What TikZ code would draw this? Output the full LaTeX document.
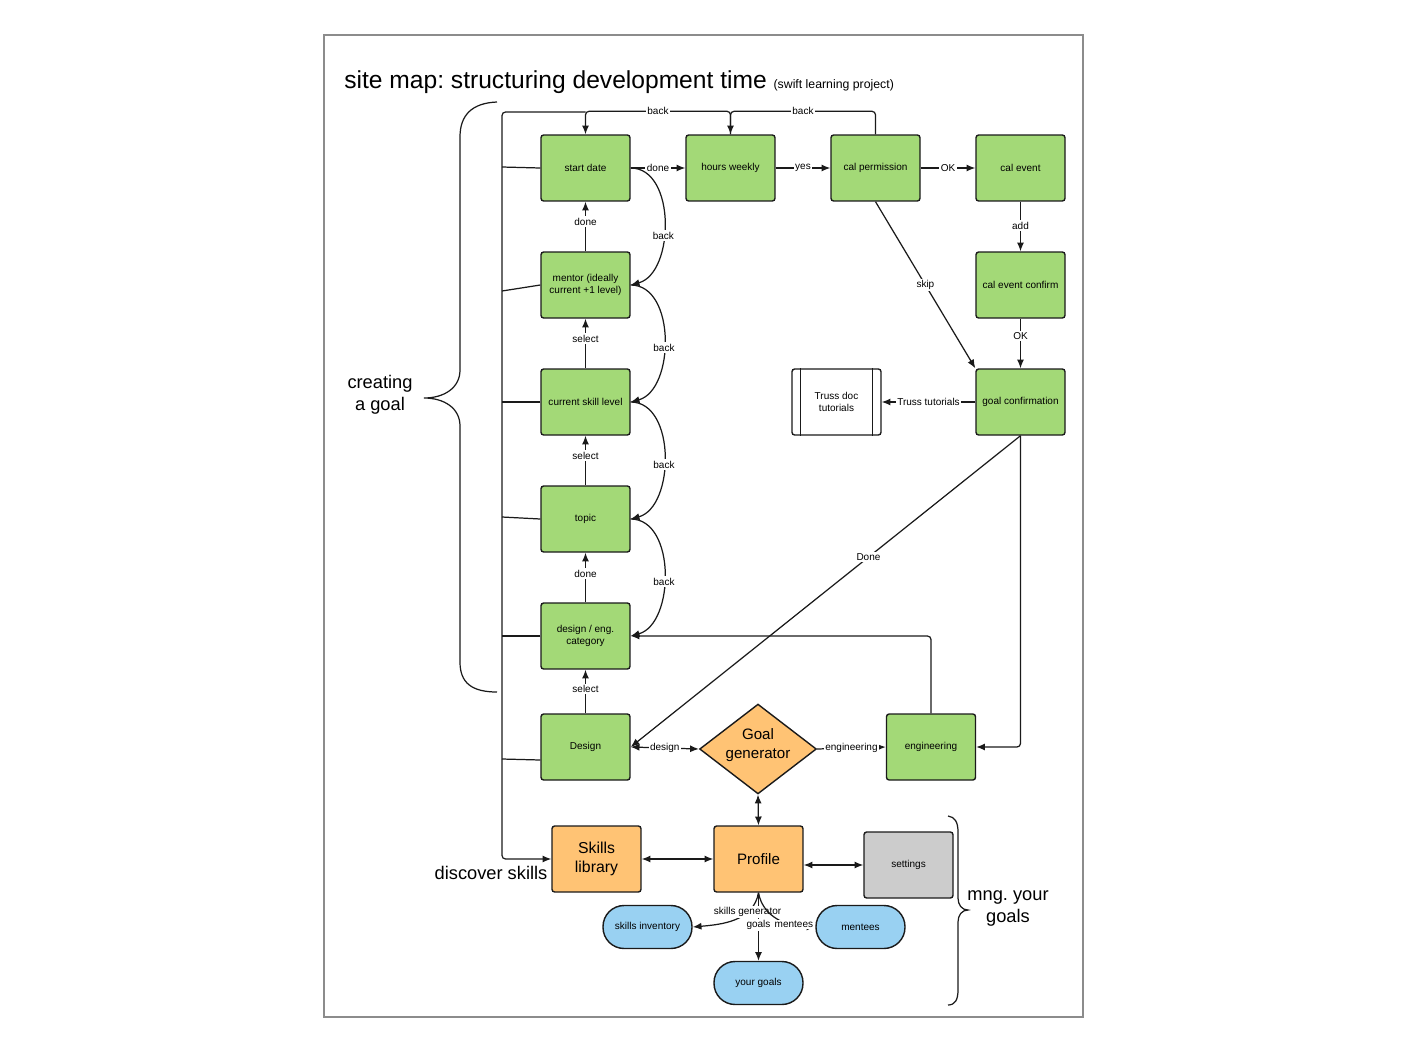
\documentclass[tikz,border=0pt]{standalone}
\usepackage{fontspec}
\setmainfont{Liberation Sans}
\usetikzlibrary{arrows.meta,shapes.geometric,calc}
\frenchspacing

\definecolor{boxgreen}{HTML}{A3D977}
\definecolor{boxorange}{HTML}{FFC374}
\definecolor{boxblue}{HTML}{99D1F2}
\definecolor{boxgray}{HTML}{CCCCCC}
\definecolor{inkline}{HTML}{1A1A1A}
\definecolor{framegray}{HTML}{8C8C8C}

\newcommand{\smallsz}{\fontsize{5.7}{6.8}\selectfont}
\newcommand{\midsz}{\fontsize{8.6}{10.3}\selectfont}
\newcommand{\bigsz}{\fontsize{10.4}{12.5}\selectfont}

\tikzset{
  >={Latex[length=5pt,width=4pt]},
  pagebox/.style={draw=inkline, line width=0.8pt, rounded corners=1.5pt,
    minimum width=1.78cm, minimum height=1.32cm, align=center,
    inner sep=1pt, font=\smallsz},
  greenbox/.style={pagebox, fill=boxgreen},
  orangebox/.style={pagebox, fill=boxorange, font=\midsz},
  graybox/.style={pagebox, fill=boxgray},
  pill/.style={draw=inkline, line width=0.8pt, fill=boxblue,
    rounded corners=12pt, minimum width=1.78cm, minimum height=0.86cm,
    align=center, inner sep=1pt, font=\smallsz},
  decision/.style={diamond, draw=inkline, line width=0.8pt, fill=boxorange,
    minimum width=2.24cm, minimum height=1.72cm, aspect=1.3, inner sep=0pt,
    align=center, font=\midsz},
  conn/.style={draw=inkline, line width=0.7pt},
  arr/.style={conn, ->},
  darr/.style={conn, <->},
  lbl/.style={fill=white, inner sep=0.8pt, font=\smallsz},
  bigtext/.style={align=center, font=\bigsz}
}

\begin{document}
\begin{tikzpicture}[x=0.02cm, y=-0.02cm]
  \useasboundingbox (0,0) rectangle (1407,1052);
  \draw[framegray, line width=0.9pt] (324,35) rectangle (1083,1017);

  % heading
  \node[anchor=base west, inner sep=0pt] (title) at (344,88)
    {\fontsize{14}{16}\selectfont site map: structuring development time
     \fontsize{7}{8}\selectfont(swift learning project)};

  % goal creation pages
  \node[greenbox] (start)    at (585.5,168) {start date};
  \node[greenbox] (hours)    at (730.5,168) {hours weekly};
  \node[greenbox] (calperm)  at (875.5,168) {cal permission};
  \node[greenbox] (calevent) at (1020.5,168) {cal event};
  \node[greenbox] (mentor)   at (585.5,285) {mentor (ideally\\current +1 level)};
  \node[greenbox] (calconf)  at (1020.5,285) {cal event confirm};
  \node[greenbox] (current)  at (585.5,402) {current skill level};
  \node[greenbox] (goalconf) at (1020.5,402) {goal confirmation};
  \node[greenbox] (topic)    at (585.5,519) {topic};
  \node[greenbox] (category) at (585.5,636) {design / eng.\\category};
  \node[greenbox] (design)   at (585.5,747) {Design};
  \node[greenbox] (eng)      at (931,747) {engineering};
  \node[decision] (gen)      at (758,749) {Goal\\generator\vphantom{g}\\[-4pt]};

  % external tutorials (process box with side bars)
  \node[pagebox, fill=white] (truss) at (836.5,402) {Truss doc\\tutorials};
  \draw[conn] ($(truss.north west)+(9,0)$) -- ($(truss.south west)+(9,0)$);
  \draw[conn] ($(truss.north east)+(-9,0)$) -- ($(truss.south east)+(-9,0)$);

  % profile area
  \node[orangebox, font=\fontsize{9}{10.8}\selectfont] (skills) at (596.5,859) {Skills\\library};
  \node[orangebox] (profile) at (758.5,859) {Profile};
  \node[graybox]   (settings) at (908.5,865) {settings};
  \node[pill] (skillsinv) at (647.5,927) {skills inventory};
  \node[pill] (mentees)   at (860.5,927) {mentees};
  \node[pill] (yourgoals) at (758.5,983) {your goals};

  % forward flow
  \draw[arr] (start) -- node[lbl]{done} (hours);
  \draw[arr] (hours) -- node[lbl]{yes} (calperm);
  \draw[arr] (calperm) -- node[lbl]{OK} (calevent);
  \draw[arr] (calevent) -- node[lbl, pos=0.48]{add} (calconf);
  \draw[arr] (calconf) -- node[lbl, pos=0.35]{OK} (goalconf);
  \draw[arr] (calperm.south) -- node[lbl]{skip} (goalconf.north west);
  \draw[arr] (goalconf) -- node[lbl]{Truss tutorials} (truss);
  \draw[arr] (goalconf.south) -- node[lbl, pos=0.39]{Done} (design.east);
  \draw[arr, rounded corners=2pt] (goalconf.south) |- (eng.east);
  \draw[arr, rounded corners=2pt] (eng.north) |- (category.east);
  \draw[darr] (design.east) -- node[lbl]{design} (gen.west);
  \draw[arr] (gen.east) -- node[lbl]{engineering} (eng.west);

  % upward steps
  \draw[arr] (design) -- node[lbl, pos=0.55]{select} (category);
  \draw[arr] (category) -- node[lbl, pos=0.58]{done} (topic);
  \draw[arr] (topic) -- node[lbl, pos=0.6]{select} (current);
  \draw[arr] (current) -- node[lbl, pos=0.6]{select} (mentor);
  \draw[arr] (mentor) -- node[lbl, pos=0.6]{done} (start);

  % back links
  \draw[arr] (start.east) to[out=0, in=15] node[lbl, pos=0.58]{back} (mentor.east);
  \draw[arr] (mentor.east) to[out=0, in=15] node[lbl, pos=0.55]{back} (current.east);
  \draw[arr] (current.east) to[out=0, in=15] node[lbl, pos=0.55]{back} (topic.east);
  \draw[arr] (topic.east) to[out=0, in=15] node[lbl, pos=0.55]{back} (category.east);
  \draw[arr, rounded corners=2pt] (hours.north) -- ++(0,-23)
    -| node[lbl, pos=0.25]{back} (start.north);
  \draw[arr, rounded corners=2pt] (calperm.north) -- ++(0,-23)
    -| node[lbl, pos=0.25]{back} (hours.north);

  % spine linking every page to the skills library
  \coordinate (spinejoin) at (585.5,112);
  \coordinate (spinetop) at (502,112);
  \coordinate (spinebot) at (502,859);
  \coordinate (j1) at (502,167);
  \coordinate (j2) at (502,291);
  \coordinate (j3) at (502,402);
  \coordinate (j4) at (502,517);
  \coordinate (j5) at (502,636);
  \coordinate (j6) at (502,759);
  \draw[arr, rounded corners=2pt] (spinejoin) -- (spinetop) -- (spinebot) -- (skills.west);
  \draw[conn] (start.west) -- (j1);
  \draw[conn] (mentor.west) -- (j2);
  \draw[conn] (current.west) -- (j3);
  \draw[conn] (topic.west) -- (j4);
  \draw[conn] (category.west) -- (j5);
  \draw[conn] ($(design.west)+(0,13)$) -- (j6);

  % profile links
  \draw[darr] (gen.south) -- (profile.north);
  \draw[darr] (skills.east) -- (profile.west);
  \draw[darr] ($(profile.east)+(0,6)$) -- (settings.west);
  \draw[arr] (profile.south) -- node[lbl, pos=0.47]{goals} (yourgoals.north);
  \draw[arr] (profile.south) to[out=-100, in=5]
    node[lbl, pos=0.3]{skills generator} (skillsinv.east);
  \draw[arr] (profile.south) to[out=-80, in=180]
    node[lbl, pos=0.72]{mentees} (mentees.west);

  % section braces and captions
  \draw[conn] (497,102) .. controls (472,103) and (460,115) .. (460,137)
    -- (460,370) .. controls (460,388) and (444,398) .. (424,398)
    .. controls (444,398) and (460,408) .. (460,426)
    -- (460,662) .. controls (460,683) and (472,692) .. (497,692);
  \node[bigtext] (creating) at (380,395) {creating\\a goal};
  \node[bigtext] (discover) at (491,873) {discover skills};
  \draw[conn] (948,816) .. controls (955,817) and (958,822) .. (958,832)
    -- (958,898) .. controls (958,905) and (962,910) .. (968,910)
    .. controls (962,910) and (958,915) .. (958,922)
    -- (958,990) .. controls (958,1000) and (955,1005) .. (948,1005);
  \node[bigtext] (mng) at (1008,908) {mng. your\\goals};
\end{tikzpicture}
\end{document}
